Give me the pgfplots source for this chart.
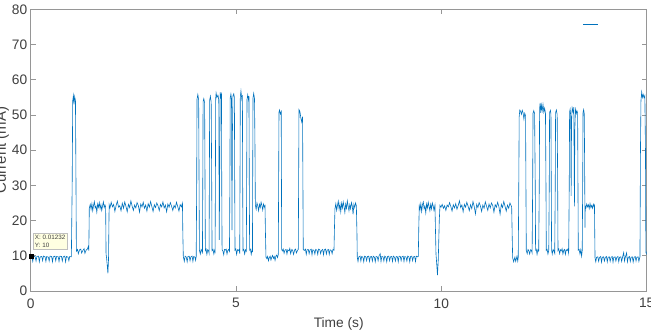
\documentclass[border=0pt]{standalone}
\usepackage{fontspec}
\setmainfont{Liberation Sans}
\usepackage{pgfplots}
\pgfplotsset{compat=1.18}
\usepackage{pgfplotstable}
\definecolor{mblue}{rgb}{0,0.447,0.741}
\definecolor{axisgray}{RGB}{150,150,150}
\definecolor{labelgray}{RGB}{64,64,64}
\definecolor{tipfill}{RGB}{255,255,225}
\pgfplotstableread{
t y
0.000 9.8
0.030 9.6
0.050 8.4
0.070 9.9
0.110 9.7
0.130 8.5
0.150 9.8
0.190 9.9
0.210 8.3
0.230 9.7
0.270 9.8
0.290 8.6
0.310 9.9
0.350 9.7
0.370 8.4
0.390 9.8
0.430 9.6
0.450 8.5
0.470 9.9
0.510 9.8
0.530 8.3
0.550 9.7
0.590 9.9
0.610 8.6
0.630 9.8
0.670 9.7
0.690 8.4
0.710 9.9
0.750 9.8
0.770 8.5
0.790 9.7
0.830 9.9
0.850 8.3
0.870 9.8
0.910 9.6
0.930 8.6
0.950 9.8
0.990 9.7
1.010 30.0
1.023 54.0
1.040 55.5
1.055 53.0
1.070 55.2
1.090 54.0
1.103 30.0
1.112 11.3
1.140 11.8
1.160 10.6
1.190 11.7
1.220 11.9
1.240 10.8
1.270 11.5
1.300 12.0
1.320 10.7
1.350 11.6
1.380 11.9
1.400 12.6
1.415 11.5
1.427 23.5
1.450 24.6
1.470 23.2
1.490 24.8
1.510 22.8
1.530 24.3
1.550 25.4
1.570 23.6
1.590 24.1
1.610 22.4
1.630 24.7
1.650 23.8
1.670 25.1
1.690 23.4
1.710 24.5
1.730 22.9
1.750 24.2
1.770 25.3
1.790 23.7
1.810 24.4
1.825 23.8
1.835 10.5
1.848 9.4
1.862 7.5
1.880 5.0
1.895 9.0
1.910 24.5
1.930 23.6
1.960 25.2
1.990 23.9
2.020 24.6
2.050 22.6
2.080 24.3
2.110 25.5
2.140 23.8
2.170 24.2
2.200 22.8
2.230 24.9
2.260 23.5
2.290 25.3
2.320 24.0
2.350 22.5
2.380 24.6
2.410 23.7
2.440 25.6
2.470 24.1
2.500 22.9
2.530 24.4
2.560 23.6
2.590 25.1
2.620 24.3
2.650 22.4
2.680 24.7
2.710 23.9
2.740 25.2
2.770 23.5
2.800 24.4
2.830 22.7
2.860 24.8
2.890 23.8
2.920 25.4
2.950 24.0
2.980 22.6
3.010 24.5
3.040 23.7
3.070 25.0
3.100 24.2
3.130 22.8
3.160 24.6
3.190 23.9
3.220 25.3
3.250 23.6
3.280 24.4
3.310 22.5
3.340 24.7
3.370 23.8
3.400 25.1
3.430 24.1
3.460 22.9
3.490 24.3
3.520 23.6
3.550 25.2
3.580 24.0
3.610 22.7
3.640 24.5
3.670 23.9
3.695 25.0
3.705 16.0
3.716 9.8
3.740 8.4
3.760 9.9
3.790 9.6
3.810 8.3
3.830 9.8
3.860 9.9
3.880 8.6
3.900 9.7
3.930 9.9
3.950 8.4
3.970 9.8
4.000 9.6
4.015 8.7
4.030 9.8
4.042 30.0
4.050 54.5
4.070 55.8
4.090 54.2
4.100 30.0
4.108 11.6
4.130 10.5
4.150 11.8
4.170 11.4
4.182 10.6
4.190 30.0
4.198 53.8
4.215 54.6
4.235 53.5
4.245 30.0
4.253 11.5
4.270 11.9
4.290 10.4
4.310 11.7
4.330 11.5
4.343 10.8
4.350 30.0
4.358 54.2
4.375 55.3
4.395 53.6
4.408 30.0
4.416 11.4
4.440 11.8
4.460 10.5
4.480 11.6
4.490 11.2
4.497 30.0
4.505 54.7
4.515 56.2
4.535 55.0
4.560 55.6
4.580 54.3
4.592 14.5
4.605 40.0
4.615 56.4
4.630 55.1
4.645 55.8
4.652 30.0
4.660 11.7
4.680 11.4
4.700 10.3
4.720 11.8
4.740 11.6
4.760 11.9
4.780 10.5
4.800 11.5
4.820 11.8
4.840 11.3
4.850 30.0
4.858 54.8
4.875 55.9
4.890 54.6
4.901 17.3
4.912 45.0
4.925 55.4
4.945 56.0
4.960 54.9
4.968 30.0
4.975 11.6
4.995 11.9
5.015 10.4
5.035 11.7
5.055 11.5
5.075 11.8
5.090 10.6
5.096 30.0
5.104 55.2
5.120 56.8
5.140 54.5
5.155 55.6
5.162 30.0
5.170 11.5
5.190 11.8
5.210 10.5
5.230 11.7
5.250 11.3
5.259 30.0
5.267 54.4
5.285 55.7
5.305 54.2
5.315 55.3
5.323 30.0
5.331 11.6
5.350 11.9
5.370 10.4
5.390 11.7
5.400 11.4
5.405 30.0
5.413 54.8
5.430 56.1
5.450 54.6
5.462 40.0
5.470 24.4
5.490 23.2
5.510 25.0
5.530 24.1
5.550 22.8
5.570 24.6
5.590 23.7
5.610 25.2
5.630 24.3
5.650 23.0
5.670 24.7
5.690 23.9
5.705 24.2
5.717 16.0
5.729 9.6
5.750 9.2
5.770 9.8
5.790 8.6
5.810 9.5
5.830 9.9
5.850 8.8
5.870 9.6
5.890 10.1
5.910 9.3
5.930 9.8
5.950 8.7
5.970 9.9
5.990 10.2
6.010 9.5
6.029 10.4
6.046 50.8
6.060 51.4
6.080 50.3
6.100 50.9
6.112 11.8
6.126 11.4
6.150 11.9
6.170 10.7
6.190 11.6
6.220 11.8
6.240 10.5
6.260 11.7
6.290 11.4
6.310 12.1
6.330 10.6
6.360 11.8
6.380 11.5
6.400 10.4
6.430 11.7
6.450 11.9
6.470 10.8
6.500 11.6
6.516 11.8
6.533 51.5
6.555 51.0
6.580 49.0
6.600 48.0
6.620 49.5
6.637 11.8
6.662 11.5
6.690 11.9
6.710 10.4
6.730 11.7
6.760 11.8
6.780 10.6
6.800 11.6
6.830 11.9
6.850 10.3
6.870 11.7
6.900 11.5
6.920 10.5
6.940 11.8
6.970 11.6
6.990 10.4
7.010 11.9
7.040 11.7
7.060 10.6
7.080 11.5
7.110 11.8
7.130 10.3
7.150 11.7
7.180 11.9
7.200 10.5
7.220 11.6
7.250 11.8
7.270 10.4
7.290 11.7
7.320 11.5
7.340 10.6
7.360 11.8
7.385 11.6
7.397 18.0
7.409 23.4
7.430 24.8
7.450 22.9
7.470 24.3
7.490 25.5
7.510 23.2
7.530 24.6
7.550 22.5
7.570 24.9
7.590 23.6
7.610 25.3
7.630 24.0
7.650 22.3
7.670 24.7
7.690 23.5
7.710 25.6
7.730 24.1
7.750 22.8
7.770 24.5
7.790 23.4
7.810 25.1
7.830 24.2
7.850 21.8
7.870 24.6
7.890 23.7
7.910 25.0
7.930 24.2
7.945 16.0
7.952 9.6
7.970 8.4
7.990 9.7
8.020 9.9
8.040 8.5
8.060 9.8
8.090 9.6
8.110 8.3
8.130 9.9
8.160 9.7
8.180 8.6
8.200 9.8
8.230 9.9
8.250 8.4
8.270 9.7
8.300 9.8
8.320 8.5
8.340 9.9
8.370 9.6
8.390 8.3
8.410 9.8
8.440 9.7
8.460 8.6
8.480 9.9
8.510 10.6
8.530 8.4
8.550 9.8
8.580 9.7
8.600 8.5
8.620 9.9
8.650 9.6
8.670 8.3
8.690 9.8
8.720 9.9
8.740 8.6
8.760 9.7
8.790 9.8
8.810 8.4
8.830 9.9
8.860 9.6
8.880 8.5
8.900 9.8
8.930 9.7
8.950 8.3
8.970 9.9
9.000 9.8
9.020 8.6
9.040 9.7
9.070 9.9
9.090 8.4
9.110 9.8
9.140 9.6
9.160 8.5
9.180 9.9
9.210 9.7
9.230 8.3
9.250 9.8
9.280 9.9
9.300 8.6
9.320 9.7
9.350 9.8
9.370 8.4
9.390 9.9
9.420 9.7
9.438 9.8
9.450 18.0
9.462 24.2
9.480 23.1
9.500 24.8
9.520 22.6
9.540 24.5
9.560 25.3
9.580 23.4
9.600 24.1
9.620 22.2
9.640 24.7
9.660 23.6
9.680 25.2
9.700 24.0
9.720 22.8
9.740 24.6
9.760 23.3
9.780 25.0
9.800 24.2
9.820 22.9
9.844 24.4
9.855 18.0
9.869 10.5
9.885 8.0
9.905 4.5
9.925 9.0
9.949 20.0
9.966 24.3
9.990 23.8
10.020 24.6
10.050 23.5
10.080 24.2
10.110 22.9
10.140 24.4
10.170 23.9
10.200 25.1
10.230 24.0
10.260 22.7
10.290 24.5
10.320 23.6
10.350 24.8
10.380 23.2
10.410 24.3
10.440 25.6
10.470 23.7
10.500 24.4
10.530 22.5
10.560 24.6
10.590 23.8
10.620 25.2
10.650 24.1
10.680 22.8
10.710 24.5
10.740 23.4
10.770 25.4
10.800 24.0
10.830 21.9
10.860 24.6
10.890 23.7
10.920 25.1
10.950 24.2
10.980 22.6
11.010 24.4
11.040 23.5
11.070 25.3
11.100 24.1
11.130 22.9
11.160 24.7
11.190 23.6
11.220 25.0
11.250 24.3
11.280 22.4
11.310 24.5
11.340 23.8
11.370 25.2
11.400 24.0
11.430 21.8
11.460 24.6
11.490 23.7
11.520 25.4
11.550 24.1
11.580 22.7
11.610 24.4
11.640 23.5
11.670 25.0
11.700 24.2
11.712 23.8
11.724 16.0
11.736 9.4
11.760 8.3
11.790 9.6
11.810 8.4
11.840 9.8
11.860 8.5
11.872 9.6
11.885 30.0
11.895 49.5
11.910 51.4
11.930 51.0
11.950 50.2
11.970 51.3
11.990 50.6
12.010 48.8
12.030 50.5
12.050 49.8
12.059 30.0
12.068 11.5
12.090 10.6
12.110 11.8
12.130 11.4
12.150 10.5
12.170 11.7
12.190 11.6
12.210 10.8
12.223 30.0
12.232 50.5
12.250 51.2
12.270 50.4
12.286 30.0
12.294 11.6
12.310 11.9
12.330 10.4
12.350 11.7
12.370 11.3
12.384 30.0
12.392 51.8
12.405 53.4
12.420 50.6
12.435 52.8
12.455 51.2
12.475 53.0
12.495 50.8
12.515 51.9
12.535 50.4
12.547 30.0
12.555 11.5
12.575 11.8
12.595 10.5
12.615 11.6
12.627 30.0
12.635 50.7
12.655 51.3
12.668 50.2
12.676 30.0
12.684 11.6
12.700 10.5
12.720 11.8
12.740 11.4
12.760 10.7
12.773 30.0
12.781 50.6
12.800 51.4
12.820 50.1
12.832 30.0
12.840 11.5
12.860 11.9
12.880 10.6
12.900 11.7
12.920 11.4
12.940 12.0
12.960 10.5
12.980 11.6
13.000 11.8
13.020 10.4
13.040 11.7
13.060 11.5
13.080 11.9
13.100 10.7
13.114 30.0
13.122 50.8
13.135 51.6
13.150 49.8
13.160 27.0
13.170 48.0
13.185 52.0
13.200 51.3
13.215 50.6
13.225 52.2
13.240 24.0
13.250 46.0
13.265 51.5
13.285 50.4
13.300 51.2
13.318 50.6
13.326 30.0
13.334 11.6
13.355 11.8
13.375 10.5
13.395 11.7
13.415 9.9
13.430 11.5
13.441 30.0
13.450 50.8
13.465 51.5
13.480 50.3
13.489 35.0
13.497 18.0
13.504 24.1
13.520 23.6
13.540 24.7
13.560 23.9
13.580 24.5
13.600 23.4
13.620 24.8
13.640 23.7
13.660 24.3
13.680 23.5
13.700 24.6
13.720 23.9
13.728 24.2
13.735 16.0
13.742 9.4
13.760 8.3
13.780 9.6
13.810 9.7
13.830 8.4
13.850 9.5
13.880 9.8
13.900 8.2
13.920 9.6
13.950 9.7
13.970 8.5
13.990 9.5
14.020 9.8
14.040 8.3
14.060 9.6
14.090 9.7
14.110 8.4
14.130 9.5
14.160 9.8
14.180 8.2
14.200 9.6
14.230 9.7
14.250 8.5
14.270 9.5
14.300 9.8
14.320 8.3
14.340 9.6
14.370 9.7
14.390 8.4
14.410 9.5
14.440 10.9
14.460 8.5
14.480 9.6
14.510 10.8
14.530 8.3
14.550 9.5
14.580 9.8
14.600 8.4
14.620 9.6
14.650 9.7
14.670 8.2
14.690 9.5
14.720 9.8
14.740 8.5
14.760 9.6
14.790 9.7
14.810 8.4
14.836 9.8
14.848 40.0
14.860 54.0
14.878 56.5
14.895 55.0
14.915 55.8
14.935 54.9
14.955 55.5
14.970 40.0
14.980 11.0
14.990 10.6
15.000 11.2
}\current
\begin{document}
\begin{tikzpicture}
\begin{axis}[
  name=ax, at={(0,0)}, anchor=south west,
  scale only axis, width=616bp, height=281.7bp,
  xmin=0, xmax=15, ymin=0, ymax=80,
  xtick={0,5,10,15}, ytick={0,10,...,80},
  tick align=inside, major tick length=5bp,
  axis line style={draw=axisgray, line width=0.6bp},
  tick style={draw=axisgray, line width=0.6bp},
  ticklabel style={font=\fontsize{13.8}{16}\selectfont, text=labelgray},
  /pgf/number format/assume math mode=true,
  xticklabel style={yshift=-4bp},
  xlabel={Time (s)}, ylabel={Current (mA)},
  xlabel style={at={(axis description cs:0.5,0)}, anchor=base, yshift=-36.8bp,
    font=\fontsize{13.8}{16}\selectfont, text=labelgray},
  ylabel style={at={(axis description cs:-0.0401,0.5)}, anchor=base,
    font=\fontsize{15}{18}\selectfont, text=labelgray},
  legend style={draw=none, fill=none, at={(axis cs:13.44,75.8)}, anchor=west,
    inner sep=0pt, nodes={inner sep=0pt}},
  legend image code/.code={\draw[#1] (0bp,0bp) -- (15bp,0bp);},
]
\addplot[mblue, line width=0.6bp] table[x=t, y=y] {\current};
\addlegendentry{}
\addplot[forget plot, only marks, mark=square*, mark size=2bp, black] coordinates {(0.01232,10)};
\node[anchor=north west, fill=tipfill, draw=gray!50, line width=0.4bp,
  inner sep=2bp, align=left, font=\fontsize{6.3}{8}\selectfont, text=black!75]
  at (axis cs:0.05,16.5) {X: 0.01232\\Y: 10};
\end{axis}
\pgfresetboundingbox
\useasboundingbox (-30.7bp,-41bp) rectangle (620.3bp,291bp);
\end{tikzpicture}
\end{document}
